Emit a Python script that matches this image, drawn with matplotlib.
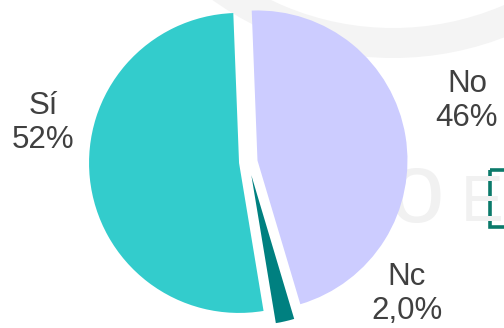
import matplotlib
matplotlib.use("Agg")
from matplotlib import pyplot as plt
from matplotlib.patches import Wedge, Rectangle

plt.rcParams['font.family'] = ['Liberation Sans', 'DejaVu Sans']

# answers, in drawing order (clockwise from the top)
categories = ["No", "Nc", "Sí"]
values = [46, 2.0, 52]
colors = ["#CCCCFF", "#008080", "#33CCCC"]
explode = [0.062, 0.09, 0.062]

# where each label sits, in pie radius units from the pie centre
label_pos = [(1.458, 0.407), (1.058, -0.88), (-1.369, 0.26)]


def fmt_pct(v):
    if v >= 10:
        return f"{v:.0f}%"
    return f"{v:.1f}%".replace(".", ",")


W, H = 504, 328
fig = plt.figure(figsize=(W / 100, H / 100), dpi=100)

# faint logo in the background, in pixel coordinates
bg = fig.add_axes([0, 0, 1, 1])
bg.set_xlim(0, W)
bg.set_ylim(H, 0)
bg.axis("off")
bg.add_patch(Wedge((393, -252), 310, 0, 360, width=30, color="#f4f4f4", lw=0))
bg.text(417, 222, "o", fontsize=72, color="#f1f1f1", ha="center", va="baseline")
letter = bg.text(461, 221, "E", fontsize=46, color="#f1f1f1", ha="left",
                 va="baseline")
letter.set_clip_path(Rectangle((440, 150), 47, 90, transform=bg.transData))
bg.add_patch(Rectangle((489.5, 169.5), 30, 57, fill=False, edgecolor="#0b7a6a", lw=2.6))

# pie, radius 1 = 150 px, centre at (248.3, 162) px from top-left
r_px = 150.0
cx, cy = 248.3, 162.0
ax = fig.add_axes([0, 0, 1, 1])
ax.patch.set_alpha(0)
ax.pie(values, colors=colors, explode=explode, startangle=92.2,
       counterclock=False, radius=1,
       wedgeprops=dict(linewidth=0))
ax.set_xlim(-cx / r_px, (W - cx) / r_px)
ax.set_ylim(-(H - cy) / r_px, cy / r_px)
ax.set_aspect("auto")
ax.axis("off")

for name, v, (x, y) in zip(categories, values, label_pos):
    ax.text(x, y, f"{name}\n{fmt_pct(v)}", ha="center", va="center",
            fontsize=22.5, color="#404040", linespacing=1.15)

fig.savefig("out.png", dpi=100)
